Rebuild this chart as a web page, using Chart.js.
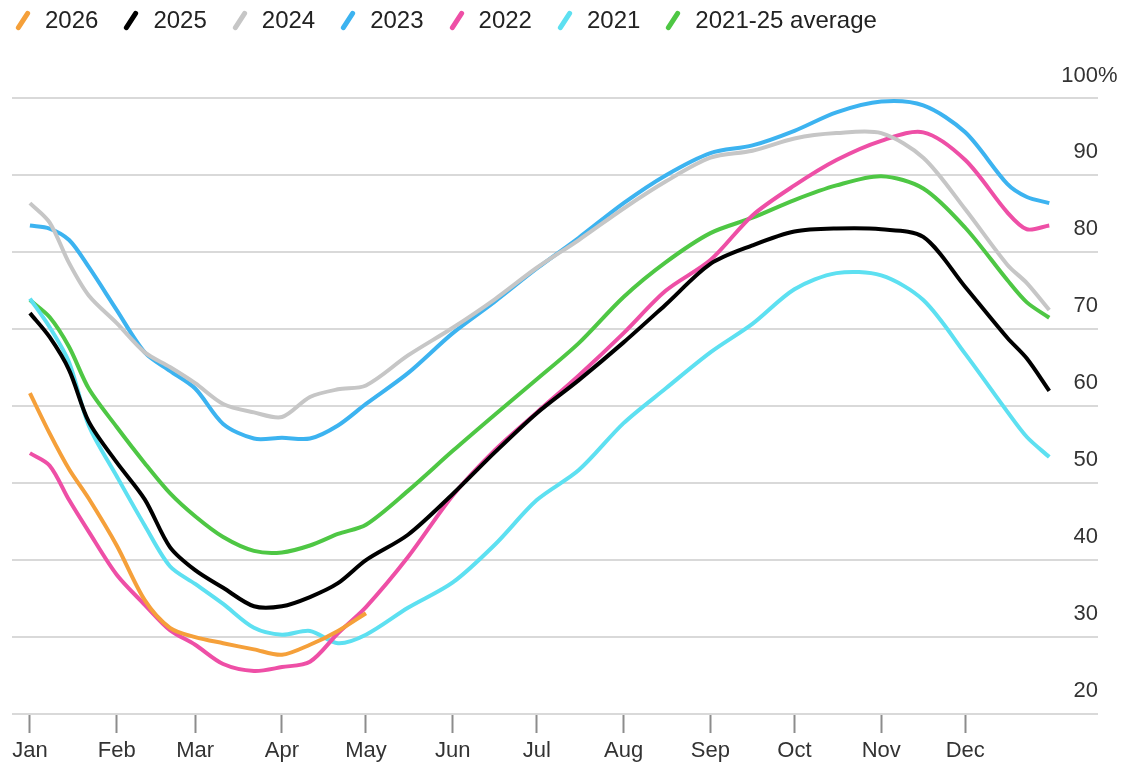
<!DOCTYPE html>
<html>
<head>
<meta charset="utf-8">
<script src="https://cdn.jsdelivr.net/npm/chart.js@4"></script>
<style>
  html, body { margin: 0; padding: 0; background: #fff; }
  #wrap { position: relative; width: 1122px; height: 766px; overflow: hidden; }
  #chart { position: absolute; left: 0; top: 0; }
  #legend {
    position: absolute; left: 12px; top: 4px;
    display: flex; align-items: center;
    font-family: "Liberation Sans", Arial, Helvetica, sans-serif;
    font-size: 24px; color: #222;
  }
  .item { display: flex; align-items: center; margin-right: 22px; height: 32px; }
  .mark { position: relative; width: 22px; height: 32px; margin-right: 11px; }
  .mark span {
    position: absolute; left: 0px; top: 14px; width: 22px; height: 5px;
    border-radius: 3px; transform: rotate(-57deg);
  }
</style>
</head>
<body>
<div id="wrap">
  <canvas id="chart" width="1122" height="766"></canvas>
  <div id="legend"></div>
</div>
<script>
// ---- data (day of year -> % full) ----
const days = [0, 7, 14, 21, 31, 41, 50, 59, 69, 80, 90, 100, 110, 120, 135, 151, 166, 181, 196, 212, 227, 243, 258, 273, 288, 304, 319, 334, 349, 356, 364];

const y2026 = [61.7, 56.5, 51.8, 48.0, 41.9, 34.8, 31.2, 30.0, 29.2, 28.4, 27.7, 29.0, 30.8, 33.1];
const y2025 = [72.1, 69.0, 64.7, 58.0, 52.7, 47.9, 41.7, 38.7, 36.4, 34.0, 34.0, 35.2, 37.0, 40.0, 43.3, 48.6, 54.0, 59.1, 63.4, 68.3, 73.2, 78.5, 80.9, 82.7, 83.1, 83.0, 82.0, 75.5, 68.9, 66.2, 62.0];
const y2024 = [86.4, 83.9, 78.6, 74.4, 70.8, 67.0, 65.1, 63.0, 60.3, 59.2, 58.6, 61.2, 62.2, 62.7, 66.6, 70.2, 73.9, 78.0, 81.6, 85.7, 89.2, 92.3, 93.2, 94.8, 95.5, 95.5, 92.3, 85.6, 78.4, 76.0, 72.5];
const y2023 = [83.5, 83.1, 81.6, 78.1, 72.5, 67.0, 64.6, 62.3, 57.7, 55.8, 55.9, 55.8, 57.5, 60.3, 64.3, 69.5, 73.6, 77.9, 81.9, 86.4, 90.0, 92.9, 93.9, 95.8, 98.2, 99.6, 99.1, 95.6, 88.9, 87.2, 86.4];
const y2022 = [53.9, 52.3, 47.8, 43.7, 38.1, 34.2, 30.9, 29.0, 26.5, 25.6, 26.1, 26.8, 30.5, 33.9, 40.4, 48.4, 54.3, 59.2, 64.0, 69.5, 75.0, 79.0, 84.8, 88.7, 92.0, 94.5, 95.6, 92.0, 85.2, 83.0, 83.5];
const y2021 = [74.0, 70.3, 65.7, 57.5, 50.9, 44.5, 39.2, 36.9, 34.3, 31.2, 30.3, 30.8, 29.2, 30.3, 33.8, 37.1, 42.0, 47.8, 51.7, 57.8, 62.3, 67.0, 70.7, 75.2, 77.3, 77.0, 73.8, 66.8, 59.3, 56.0, 53.4];
const yAvg  = [73.8, 71.6, 67.7, 62.3, 57.3, 52.6, 48.7, 45.7, 43.0, 41.2, 41.0, 41.9, 43.4, 44.6, 49.0, 54.2, 58.9, 63.5, 68.2, 74.2, 78.7, 82.5, 84.5, 86.8, 88.7, 89.9, 88.3, 83.2, 76.4, 73.5, 71.5];

const seriesNames  = ['2026', '2025', '2024', '2023', '2022', '2021', '2021-25 average'];
const seriesColors = ['#f5a03a', '#000000', '#c6c6c6', '#3cb3f0', '#ee4fa6', '#5de0f1', '#4ec744'];
const seriesValues = [y2026, y2025, y2024, y2023, y2022, y2021, yAvg];

const monthStarts = [0, 31, 59, 90, 120, 151, 181, 212, 243, 273, 304, 334];
const monthLabels = ['Jan', 'Feb', 'Mar', 'Apr', 'May', 'Jun', 'Jul', 'Aug', 'Sep', 'Oct', 'Nov', 'Dec'];
const yTicks = [20, 30, 40, 50, 60, 70, 80, 90, 100];

const FONT = '"Liberation Sans", Arial, Helvetica, sans-serif';

// ---- legend (html) ----
const legendEl = document.getElementById('legend');
seriesNames.forEach((name, i) => {
    const item = document.createElement('div');
    item.className = 'item';
    item.innerHTML = `<div class="mark"><span style="background:${seriesColors[i]}"></span></div><div>${name}</div>`;
    legendEl.appendChild(item);
});

// y labels sit above their gridline, right-aligned to the plot edge
const yLabelPlugin = {
    id: 'yLabels',
    afterDraw(chart) {
        const { ctx, chartArea, scales } = chart;
        ctx.save();
        ctx.font = `22px ${FONT}`;
        ctx.fillStyle = '#333';
        ctx.textBaseline = 'middle';
        yTicks.forEach(v => {
            const y = scales.y.getPixelForValue(v) - 23;
            ctx.textAlign = 'right';
            ctx.fillText(String(v), chartArea.right, y);
            if (v === 100) {
                ctx.textAlign = 'left';
                ctx.fillText('%', chartArea.right, y);
            }
        });
        ctx.restore();
    }
};

const datasets = seriesValues.map((vals, i) => ({
    label: seriesNames[i],
    data: days.slice(0, vals.length).map((d, k) => ({ x: d, y: vals[k] })),
    borderColor: seriesColors[i],
    borderWidth: 4,
    pointRadius: 0,
    fill: false,
    tension: 0.3
}));

new Chart(document.getElementById('chart'), {
    type: 'line',
    data: { datasets },
    options: {
        responsive: false,
        animation: false,
        devicePixelRatio: 1,
        layout: { padding: { left: 12, right: 24, top: 60, bottom: 0 } },
        plugins: { legend: { display: false }, tooltip: { enabled: false } },
        scales: {
            x: {
                type: 'linear',
                min: -6.4,
                max: 381.4,
                afterBuildTicks: s => { s.ticks = monthStarts.map(v => ({ value: v })); },
                afterFit: s => { s.height = 52; },
                border: { display: false },
                grid: {
                    drawOnChartArea: false,
                    drawTicks: true,
                    tickLength: 19,
                    tickColor: '#8c8c8c',
                    tickWidth: 2
                },
                ticks: {
                    autoSkip: false,
                    maxRotation: 0,
                    padding: 5,
                    color: '#333',
                    font: { family: FONT, size: 22 },
                    callback: v => monthLabels[monthStarts.indexOf(v)]
                }
            },
            y: {
                position: 'right',
                min: 20,
                max: 105,
                afterBuildTicks: s => { s.ticks = yTicks.map(v => ({ value: v })); },
                afterFit: s => { s.width = 0; },
                border: { display: false },
                grid: { color: '#d9d9d9', lineWidth: 2, drawTicks: false },
                ticks: { display: false }
            }
        }
    },
    plugins: [yLabelPlugin]
});
</script>
</body>
</html>
